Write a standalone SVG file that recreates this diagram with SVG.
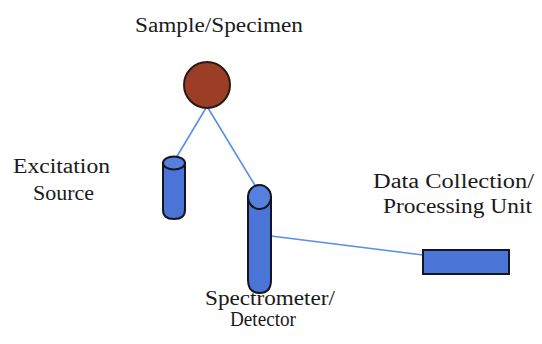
<svg xmlns="http://www.w3.org/2000/svg" width="542" height="344" viewBox="0 0 542 344">
  <style>
    .lbl { font-size: 20px; fill: #1a1a1a; }
    .wire { stroke: #5b8ee6; stroke-width: 1.6; fill: none; }
    .part { fill: #4a74d6; stroke: #15151f; stroke-width: 2; }
    .cap { fill: #5680de; stroke: #15151f; stroke-width: 2; }
  </style>
  <rect width="542" height="344" fill="#ffffff"/>

  <!-- connectors -->
  <g id="connectors">
    <line class="wire" x1="206" y1="108" x2="176" y2="158"/>
    <line class="wire" x1="208" y1="108" x2="256" y2="187"/>
    <line class="wire" x1="271" y1="236" x2="423" y2="255"/>
  </g>

  <g font-family="'Liberation Serif', 'DejaVu Serif', serif">
    <g id="sample">
      <circle cx="207" cy="85" r="23" fill="#9c3d26" stroke="#2a1a14" stroke-width="2"/>
      <text class="lbl" x="135" y="32" textLength="168" lengthAdjust="spacingAndGlyphs">Sample/Specimen</text>
    </g>

    <g id="excitation-source">
      <path class="part" d="M163,163 L163,210 Q163,219 174,219 Q185,219 185,210 L185,163 Z"/>
      <ellipse class="cap" cx="174" cy="163" rx="11" ry="6.5"/>
      <text class="lbl" x="13" y="173" textLength="97" lengthAdjust="spacingAndGlyphs">Excitation</text>
      <text class="lbl" x="33" y="200" textLength="61" lengthAdjust="spacingAndGlyphs">Source</text>
    </g>

    <g id="spectrometer">
      <path class="part" d="M248,197 L248,280 Q248,293 259.5,293 Q271,293 271,280 L271,197 Z"/>
      <ellipse class="cap" cx="259.5" cy="197" rx="11.5" ry="12"/>
      <text class="lbl" x="205" y="305" textLength="130" lengthAdjust="spacingAndGlyphs">Spectrometer/</text>
      <text class="lbl" x="230" y="326" textLength="66" lengthAdjust="spacingAndGlyphs">Detector</text>
    </g>

    <g id="data-unit">
      <rect class="part" x="423" y="250" width="86" height="24"/>
      <text class="lbl" x="373" y="188" textLength="161" lengthAdjust="spacingAndGlyphs">Data Collection/</text>
      <text class="lbl" x="383" y="213" textLength="149" lengthAdjust="spacingAndGlyphs">Processing Unit</text>
    </g>
  </g>
</svg>
